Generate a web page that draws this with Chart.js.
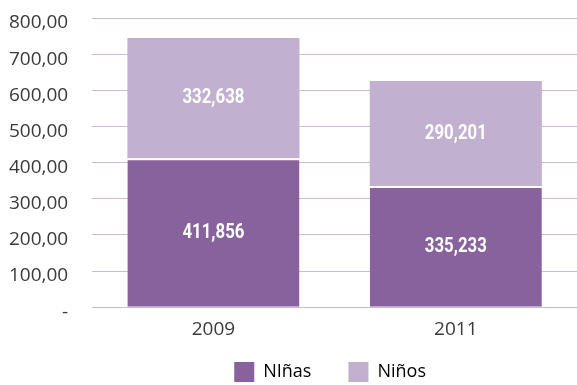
<!DOCTYPE html>
<html>
<head>
<meta charset="utf-8">
<script src="https://cdn.jsdelivr.net/npm/chart.js@4"></script>
<style>
  html, body { margin: 0; padding: 0; background: #fff; }
  #wrap { width: 577px; height: 385px; }
</style>
</head>
<body>
<div id="wrap"><canvas id="chart"></canvas></div>
<script>
// Years on the x axis
const years = ['2009', '2011'];
// Stacked values per group (thousands)
const ninas = [411.856, 335.233];
const ninos = [332.638, 290.201];
const seriesNames = ['NIñas', 'Niños'];
const yTicks = [0, 100, 200, 300, 400, 500, 600, 700, 800];

const darkPurple = '#87629c';
const lightPurple = '#c1b0d0';
const gridPurple = '#cbbbda';

function fmtValue(v) {
    return v.toFixed(3).replace('.', ',');
}

// draws the value in the middle of every bar segment (condensed bold)
const barValues = {
    id: 'barValues',
    afterDatasetsDraw(chart) {
        const ctx = chart.ctx;
        const squeeze = 0.8;
        ctx.save();
        ctx.fillStyle = '#ffffff';
        ctx.font = 'bold 21px Roboto, "Open Sans", sans-serif';
        ctx.textAlign = 'center';
        ctx.textBaseline = 'middle';
        chart.data.datasets.forEach((ds, i) => {
            chart.getDatasetMeta(i).data.forEach((bar, j) => {
                const mid = (bar.y + bar.base) / 2;
                ctx.save();
                ctx.translate(bar.x, mid);
                ctx.scale(squeeze, 1);
                ctx.fillText(fmtValue(ds.data[j]), 0, 0);
                ctx.restore();
            });
        });
        ctx.restore();
    }
};

new Chart(document.getElementById('chart'), {
    type: 'bar',
    data: {
        labels: years,
        datasets: [{
            label: seriesNames[0],
            data: ninas,
            backgroundColor: darkPurple,
            borderColor: '#ffffff',
            borderWidth: { top: 2, left: 0, right: 0, bottom: 0 },
            borderSkipped: false
        }, {
            label: seriesNames[1],
            data: ninos,
            backgroundColor: lightPurple,
            borderWidth: 0
        }]
    },
    options: {
        responsive: true,
        maintainAspectRatio: false,
        animation: false,
        layout: { padding: { top: 18, right: 0, left: 7, bottom: -7 } },
        datasets: {
            bar: { categoryPercentage: 1, barPercentage: 0.71 }
        },
        plugins: {
            legend: {
                position: 'bottom',
                fullSize: false,
                labels: {
                    boxWidth: 20,
                    boxHeight: 20,
                    padding: 10,
                    color: '#3a3a3a',
                    font: { family: '"Open Sans", sans-serif', size: 18 },
                    generateLabels(chart) {
                        return chart.data.datasets.map((ds, i) => ({
                            // wider gap after the first entry
                            text: ds.label + (i === 0 ? '\u2003\u2002' : '\u2002'),
                            fillStyle: ds.backgroundColor,
                            strokeStyle: ds.backgroundColor,
                            lineWidth: 0,
                            datasetIndex: i
                        }));
                    }
                }
            },
            tooltip: { enabled: false }
        },
        scales: {
            x: {
                stacked: true,
                grid: { display: false, drawTicks: false },
                border: { display: false },
                ticks: {
                    color: '#3a3a3a',
                    padding: 11,
                    font: { family: '"Open Sans", sans-serif', size: 19 }
                }
            },
            y: {
                stacked: true,
                min: yTicks[0],
                max: yTicks[yTicks.length - 1],
                afterBuildTicks(axis) {
                    axis.ticks = yTicks.map(v => ({ value: v }));
                },
                // invisible tick marks keep the labels away from the plot
                grid: { color: gridPurple, lineWidth: 1, drawTicks: true, tickLength: 22, tickColor: 'rgba(0,0,0,0)' },
                border: { display: false },
                ticks: {
                    color: '#3a3a3a',
                    padding: 2,
                    labelOffset: 5,
                    font: { family: '"Open Sans", sans-serif', size: 19 },
                    callback: v => v === 0 ? '-' : v.toFixed(2).replace('.', ',')
                }
            }
        }
    },
    plugins: [barValues]
});
</script>
</body>
</html>
